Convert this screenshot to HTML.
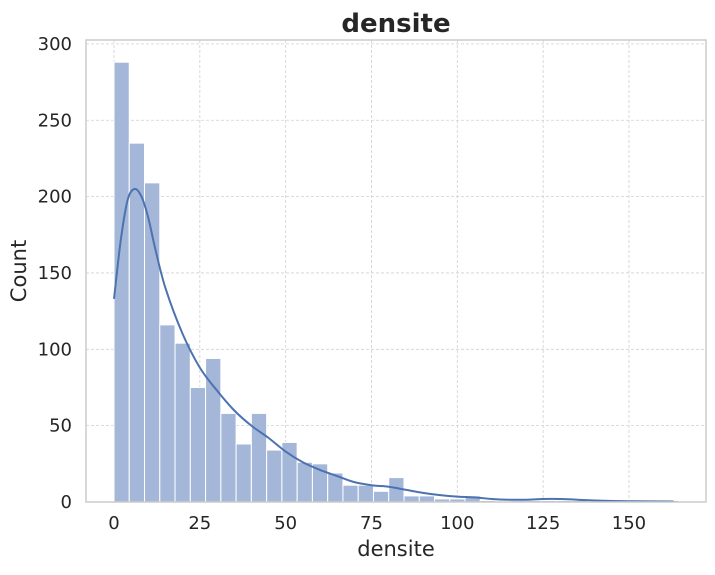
<!DOCTYPE html>
<html><head><meta charset="utf-8"><style>
body{margin:0;background:#fff;}
svg text{font-family:"DejaVu Sans","Liberation Sans",sans-serif;fill:#262626;}
</style></head><body>
<svg width="715" height="570" viewBox="0 0 715 570">
<text x="396" y="32" text-anchor="middle" font-size="26" font-weight="bold">densite</text>
<g id="grid"></g>
<g id="bars"></g>
<path id="kde" fill="none" stroke="#4c72b0" stroke-width="2"/>
<rect x="86" y="40" width="620" height="462" fill="none" stroke="#cccccc" stroke-width="1.5"/>
<g id="ticks"></g>
<text x="396" y="556" text-anchor="middle" font-size="21">densite</text>
<text x="0" y="0" transform="translate(26,271) rotate(-90)" text-anchor="middle" font-size="21">Count</text>
</svg>
<script>
const counts=[288,235,209,116,104,75,94,58,38,58,34,39,26,25,19,11,11,7,16,4,4,2,2,4,1,0,1,1,1,1,1,0,1,1,1,1,1];
const binStart=0;
const binWidth=4.446;
const kdeX=[0,2,4,6,8,10,12,15,20,25,30,35,40,45,50,55,60,65,70,75,80,85,90,95,100,105,110,115,120,125,130,135,140,150,163];
const kdeY=[133,172,198,205,200,186,166,140,110,88,73,60,50,42,33,26,21,17,13,11,10,8,6,4.5,3.5,3,2,1.5,1.5,2,2,1.5,1,0.5,0.3];
const xTicks=[0,25,50,75,100,125,150];
const yTicks=[0,50,100,150,200,250,300];
const X=v=>114+v*3.433;
const Y=v=>502-v*1.527;
const NS="http://www.w3.org/2000/svg";
function mk(t,a){const e=document.createElementNS(NS,t);for(const k in a)e.setAttribute(k,a[k]);return e;}
const grid=document.getElementById('grid'),bars=document.getElementById('bars'),ticks=document.getElementById('ticks');
xTicks.forEach(v=>{
 const l=mk('line',{x1:X(v),x2:X(v),y1:40,y2:502,stroke:'#d0d0d0','stroke-dasharray':'3,2','stroke-width':0.8});
 
 
 grid.appendChild(l);
 const t=mk('text',{x:X(v),y:529,'text-anchor':'middle','font-size':18});t.textContent=v;
 
 
 ticks.appendChild(t);
});
yTicks.forEach(v=>{
 const l=mk('line',{x1:86,x2:706,y1:Y(v),y2:Y(v),stroke:'#d0d0d0','stroke-dasharray':'3,2','stroke-width':0.8});
 
 
 grid.appendChild(l);
 const t=mk('text',{x:72,y:Y(v)+6,'text-anchor':'end','font-size':18});t.textContent=v;
 
 
 ticks.appendChild(t);
});
counts.forEach((c,i)=>{
 const x0=X(binStart+i*binWidth),x1=X(binStart+(i+1)*binWidth);
 const r=mk('rect',{x:x0,y:Y(c),width:x1-x0,height:Y(0)-Y(c),fill:'#a5b7d8',stroke:'#ffffff','stroke-width':1});
 
 
 bars.appendChild(r);
});
let d='';
for(let i=0;i<kdeX.length;i++){
 const px=X(kdeX[i]),py=Y(kdeY[i]);
 if(i===0){d+='M'+px+','+py;}else{
  const p0=i>1?[X(kdeX[i-2]),Y(kdeY[i-2])]:[X(kdeX[i-1]),Y(kdeY[i-1])];
  const p1=[X(kdeX[i-1]),Y(kdeY[i-1])],p2=[px,py];
  const p3=i<kdeX.length-1?[X(kdeX[i+1]),Y(kdeY[i+1])]:p2;
  const c1=[p1[0]+(p2[0]-p0[0])/6,p1[1]+(p2[1]-p0[1])/6],c2=[p2[0]-(p3[0]-p1[0])/6,p2[1]-(p3[1]-p1[1])/6];
  d+=' C'+c1+' '+c2+' '+p2;
 }
}
document.getElementById('kde').setAttribute('d',d);
</script>
</body></html>
